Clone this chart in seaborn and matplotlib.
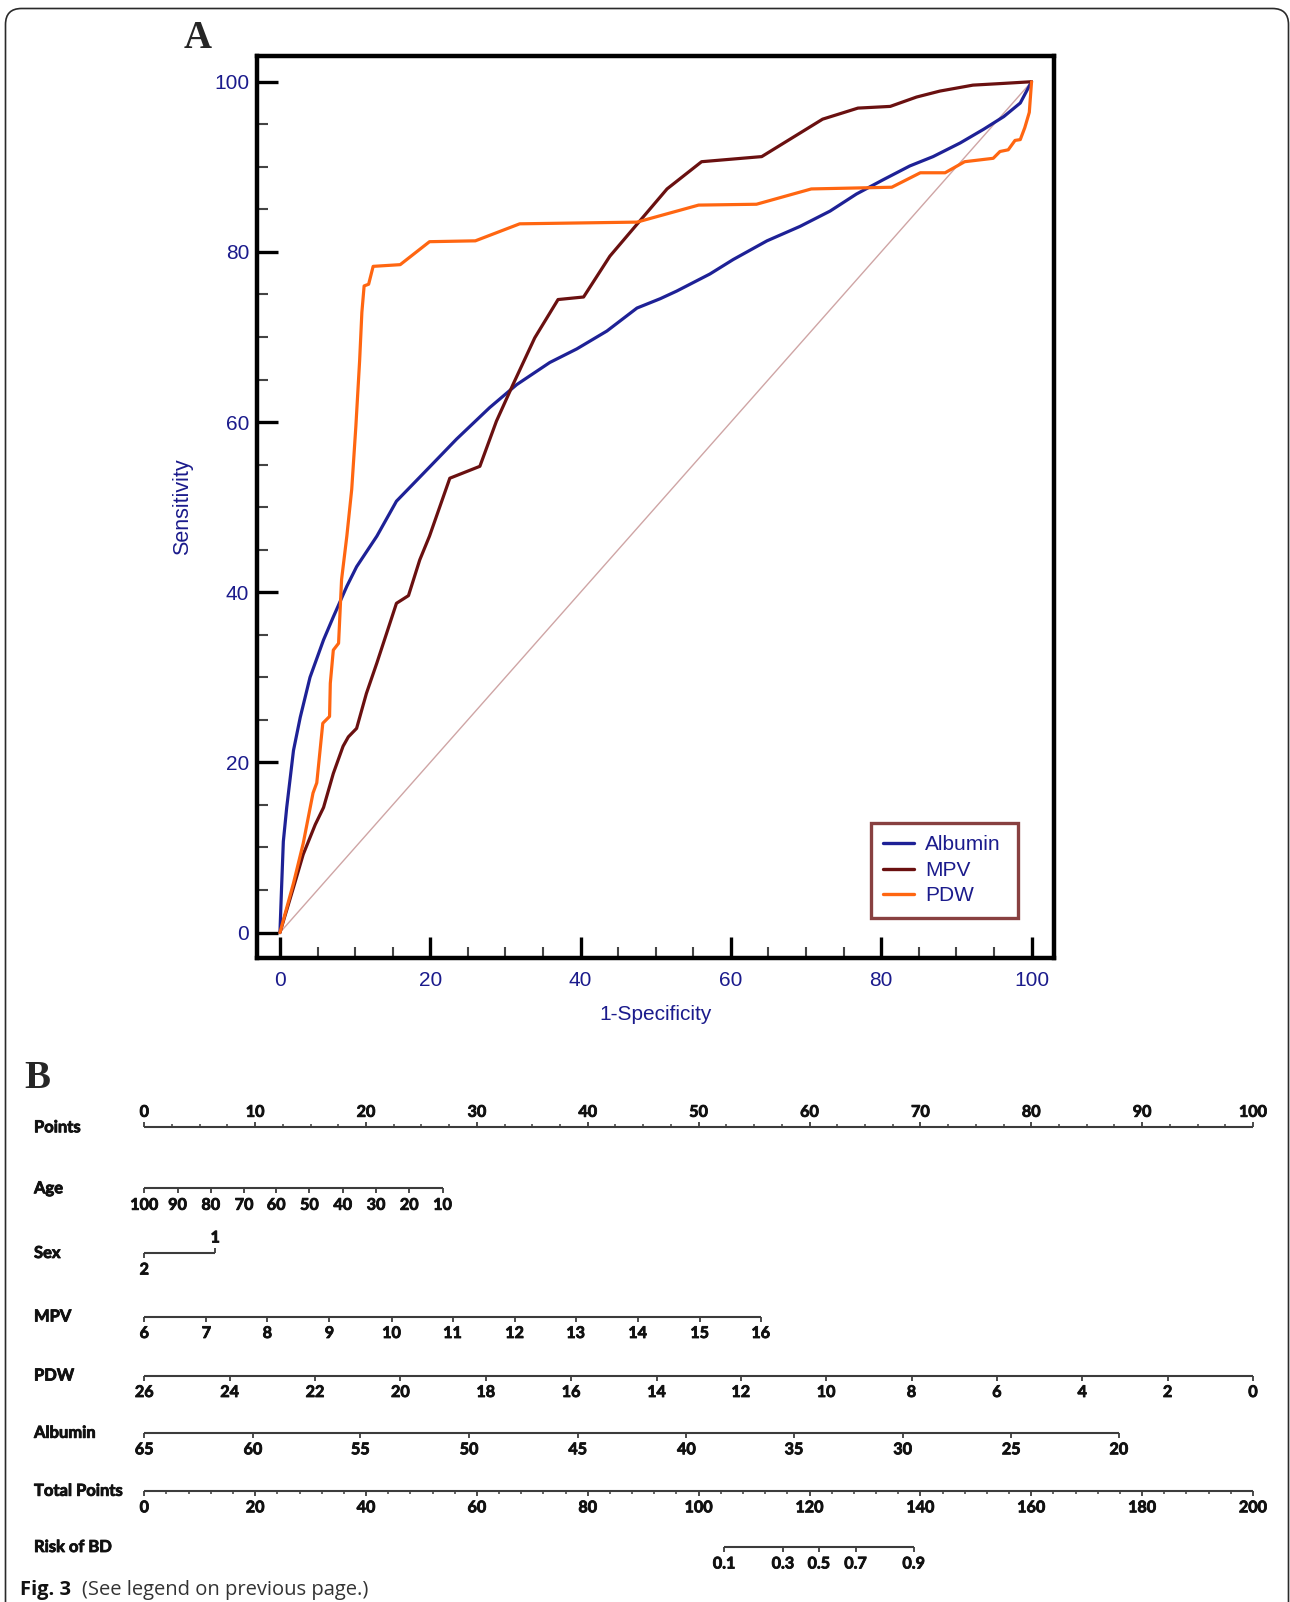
import numpy as np
import pandas as pd
import matplotlib
matplotlib.use("Agg")
import matplotlib.pyplot as plt
import matplotlib.transforms as mtransforms
import matplotlib.patheffects as pe
from matplotlib.patches import FancyBboxPatch
from matplotlib.ticker import MultipleLocator
from matplotlib import font_manager as fm
import seaborn as sns

# ---------------- Data: Panel A (ROC curves, %) ----------------
markers = ["Albumin", "MPV", "PDW"]

alb_fpr = [0, 0.2, 0.45, 0.9, 1.8, 2.7, 4.0, 5.8, 7.1, 8.9, 10.2, 12.9, 15.5, 20.0, 23.5,
           27.9, 31.5, 35.9, 39.5, 43.5, 47.5, 50.6, 52.8, 57.2, 60.3, 64.8, 69.2, 73.2,
           76.7, 80.3, 83.8, 86.9, 90.5, 93.6, 96.3, 98.5, 100]
alb_tpr = [0, 4.9, 10.7, 14.7, 21.4, 25.3, 30.0, 34.4, 37.1, 40.7, 43.0, 46.6, 50.7, 54.8, 58.0,
           61.7, 64.4, 67.0, 68.6, 70.7, 73.4, 74.5, 75.4, 77.4, 79.1, 81.3, 83.0, 84.8,
           86.8, 88.5, 90.1, 91.2, 92.8, 94.4, 95.9, 97.5, 100]

mpv_fpr = [0, 1.8, 3.1, 4.7, 5.8, 7.1, 8.4, 9.1, 10.2, 11.5, 12.9, 14.2, 15.5, 17.1, 18.6,
           19.9, 22.6, 26.6, 28.8, 31.0, 33.9, 37.0, 40.4, 43.9, 51.5, 56.1, 64.1, 72.2,
           76.9, 81.2, 84.7, 87.8, 92.2, 96.2, 100]
mpv_tpr = [0, 5.3, 9.2, 12.7, 14.7, 18.7, 21.9, 23.0, 24.0, 28.1, 31.7, 35.2, 38.7, 39.6, 43.8,
           46.6, 53.4, 54.8, 60.1, 64.4, 69.9, 74.4, 74.7, 79.5, 87.4, 90.6, 91.2, 95.6,
           96.9, 97.1, 98.2, 98.9, 99.6, 99.8, 100]

pdw_fpr = [0, 1.8, 3.1, 4.4, 4.9, 5.7, 6.6, 6.7, 7.1, 7.8, 8.2, 8.9, 9.55, 10.1, 10.6, 10.9,
           11.2, 11.8, 12.4, 16.0, 19.9, 26.0, 31.9, 47.5, 55.7, 63.4, 70.7, 81.4, 85.2,
           88.5, 91.1, 94.9, 95.8, 96.9, 97.8, 98.5, 99.1, 99.7, 100]
pdw_tpr = [0, 5.8, 10.5, 16.4, 17.6, 24.6, 25.4, 29.3, 33.2, 34.0, 41.5, 46.6, 52.1, 59.5, 67.2,
           72.9, 76.0, 76.2, 78.3, 78.5, 81.2, 81.3, 83.3, 83.5, 85.5, 85.6, 87.4, 87.6, 89.3,
           89.3, 90.6, 91.0, 91.8, 92.0, 93.1, 93.2, 94.6, 96.4, 100]

diag = [0, 100]
axis_ticks = [0, 20, 40, 60, 80, 100]

# ---------------- Data: Panel B (nomogram) ----------------
row_names = ["Points", "Age", "Sex", "MPV", "PDW", "Albumin", "Total Points", "Risk of BD"]

points_ticks = [0, 10, 20, 30, 40, 50, 60, 70, 80, 90, 100]
age_labels = ["100", "90", "80", "70", "60", "50", "40", "30", "20", "10"]
age_points = [0, 3.0, 6.0, 9.0, 11.9, 14.9, 17.9, 20.9, 23.9, 26.9]
sex_labels = ["2", "1"]
sex_points = [0, 6.4]
mpv_labels = ["6", "7", "8", "9", "10", "11", "12", "13", "14", "15", "16"]
mpv_points = [0, 5.6, 11.1, 16.7, 22.3, 27.8, 33.4, 38.9, 44.5, 50.1, 55.6]
pdw_labels = ["26", "24", "22", "20", "18", "16", "14", "12", "10", "8", "6", "4", "2", "0"]
pdw_points = [0, 7.7, 15.4, 23.1, 30.8, 38.5, 46.2, 53.8, 61.5, 69.2, 76.9, 84.6, 92.3, 100]
alb_labels = ["65", "60", "55", "50", "45", "40", "35", "30", "25", "20"]
alb_points = [0, 9.8, 19.5, 29.3, 39.1, 48.9, 58.6, 68.4, 78.2, 87.9]
total_ticks = [0, 20, 40, 60, 80, 100, 120, 140, 160, 180, 200]
risk_labels = ["0.1", "0.3", "0.5", "0.7", "0.9"]
risk_total = [104.6, 115.2, 121.7, 128.3, 138.8]

# ---------------- Style ----------------
sns.set_theme(style="white")
plt.rcParams['font.family'] = ['Liberation Sans', 'DejaVu Sans']

navy = "#1b1b8c"
palette = {"Albumin": "#1e2196", "MPV": "#6a1010", "PDW": "#ff6611"}


def pick_font(cands):
    for c in cands:
        try:
            fm.findfont(fm.FontProperties(family=c), fallback_to_default=False)
            return c
        except Exception:
            continue
    return "DejaVu Sans"


nomo_font = pick_font(["Lato", "Roboto", "Open Sans"])
cap_font = pick_font(["Open Sans", "Noto Sans", "Liberation Sans"])

W, H, DPI = 1290, 1602, 100
fig = plt.figure(figsize=(W / DPI, H / DPI), dpi=DPI)
fig.patch.set_facecolor("white")


def fx(px):
    return px / W


def fy(py):
    return 1 - py / H


# ---------------- Panel A ----------------
axA = fig.add_axes([fx(257.4), fy(958.1), (1054.1 - 257.4) / W, (958.1 - 56.2) / H])
axA.set_facecolor("white")

roc = pd.concat([
    pd.DataFrame({"fpr": alb_fpr, "tpr": alb_tpr, "Marker": "Albumin"}),
    pd.DataFrame({"fpr": mpv_fpr, "tpr": mpv_tpr, "Marker": "MPV"}),
    pd.DataFrame({"fpr": pdw_fpr, "tpr": pdw_tpr, "Marker": "PDW"}),
], ignore_index=True)

axA.plot(diag, diag, color="#cfa5a5", lw=1.0, label="_nolegend_", zorder=1)
sns.lineplot(data=roc, x="fpr", y="tpr", hue="Marker", hue_order=markers, palette=palette,
             sort=False, estimator=None, linewidth=2.3, ax=axA, zorder=2)

axA.set_xlim(-3, 103)
axA.set_ylim(-3, 103)
axA.set_xticks(axis_ticks)
axA.set_yticks(axis_ticks)
axA.xaxis.set_minor_locator(MultipleLocator(5))
axA.yaxis.set_minor_locator(MultipleLocator(5))
axA.tick_params(which="major", direction="in", length=15, width=2.4, color="black",
                labelsize=15, labelcolor=navy, pad=6, top=False, right=False,
                bottom=True, left=True)
axA.tick_params(axis="x", which="major", pad=9)
axA.tick_params(which="minor", direction="in", length=8, width=1.5, color="#444444",
                top=False, right=False, bottom=True, left=True)
for s in axA.spines.values():
    s.set_linewidth(3.2)
    s.set_color("black")
axA.set_xlabel("1-Specificity", fontsize=15, color=navy, labelpad=11)
axA.set_ylabel("Sensitivity", fontsize=15.5, color=navy, labelpad=15)

handles, labels = axA.get_legend_handles_labels()
leg = axA.legend(handles, labels, loc="lower left",
                 bbox_to_anchor=(0.770, 0.0445, 0.185, 0.107), mode="expand",
                 borderaxespad=0, fontsize=15, frameon=True, fancybox=False,
                 handlelength=1.45, handletextpad=0.55, labelspacing=0.32,
                 borderpad=0.6, labelcolor=navy)
leg.get_frame().set_edgecolor("#6a1010")
leg.get_frame().set_linewidth(2.4)
for ln in leg.get_lines():
    ln.set_linewidth(2.4)

fig.text(fx(197.5), fy(38.5), "A", family=["Liberation Serif", "DejaVu Serif"],
         weight="bold", fontsize=28, ha="center", va="center")

# ---------------- Panel B (nomogram) ----------------
scale = (1253.0 - 144.3) / 100.0
axN = fig.add_axes([0, 0, 1, 1])
axN.set_xlim(-144.3 / scale, (W - 144.3) / scale)
axN.set_ylim(H, 0)
axN.axis("off")
axN.patch.set_alpha(0)

row_y = [1127.3, 1188.3, 1253.0, 1316.5, 1375.5, 1432.8, 1490.8, 1547.0]
lc = "#3c3c3c"
txt_col = "#111111"
heavy = [pe.Stroke(linewidth=0.6, foreground=txt_col), pe.Normal()]
name_tr = mtransforms.blended_transform_factory(fig.transFigure, axN.transData)
name_kw = dict(family=[nomo_font, "DejaVu Sans"], weight="bold", fontsize=11.9,
               color=txt_col, path_effects=heavy)
tick_kw = dict(family=[nomo_font, "DejaVu Sans"], weight="bold", fontsize=11.6,
               color=txt_col, ha="center", va="center", path_effects=heavy)

for yv, name in zip(row_y, row_names):
    axN.text(fx(34), yv, name, transform=name_tr, ha="left", va="center", **name_kw)


def draw_scale(y, pos, labels, side, tick_len=5.0, off_above=14.5, off_below=17.5):
    axN.hlines(y, min(pos), max(pos), color=lc, lw=1.5)
    for p, lab, sd in zip(pos, labels, side):
        sgn = -1 if sd == "above" else 1
        axN.vlines(p, y, y + sgn * tick_len, color=lc, lw=1.3)
        off = off_above if sd == "above" else off_below
        axN.text(p, y + sgn * off, lab, **tick_kw)


# Points
draw_scale(row_y[0], points_ticks, [str(v) for v in points_ticks], ["above"] * len(points_ticks))
pt_minor = [v for v in np.arange(0, 100.01, 2.5) if v % 10 != 0]
axN.vlines(pt_minor, row_y[0], row_y[0] - 3.0, color=lc, lw=1.1)
# Age
draw_scale(row_y[1], age_points, age_labels, ["below"] * len(age_points))
# Sex
draw_scale(row_y[2], sex_points, sex_labels, ["below", "above"])
# MPV
draw_scale(row_y[3], mpv_points, mpv_labels, ["below"] * len(mpv_points))
# PDW
draw_scale(row_y[4], pdw_points, pdw_labels, ["below"] * len(pdw_points))
# Albumin
draw_scale(row_y[5], alb_points, alb_labels, ["below"] * len(alb_points))
# Total points (0-200 mapped onto the 0-100 points width)
tot_pos = [t / 2 for t in total_ticks]
draw_scale(row_y[6], tot_pos, [str(t) for t in total_ticks], ["below"] * len(tot_pos))
tot_minor = [v / 2 for v in np.arange(0, 200.01, 4) if v % 20 != 0]
axN.vlines(tot_minor, row_y[6], row_y[6] + 3.0, color=lc, lw=1.1)
# Risk
risk_pos = [t / 2 for t in risk_total]
draw_scale(row_y[7], risk_pos, risk_labels, ["below"] * len(risk_pos))

fig.text(fx(37), fy(1079), "B", family=["Liberation Serif", "DejaVu Serif"],
         weight="bold", fontsize=28, ha="center", va="center")

# Caption
fig.text(fx(20.5), fy(1590), "Fig. 3", family=[cap_font, "DejaVu Sans"], weight="bold",
         fontsize=14.5, color="#111111", ha="left", va="center")
fig.text(fx(82), fy(1590), "(See legend on previous page.)", family=[cap_font, "DejaVu Sans"],
         fontsize=14.5, color="#333333", ha="left", va="center")

# Outer rounded frame
frame = FancyBboxPatch((5.5, -60), 1283, H - 8.5 + 60,
                       boxstyle="round,pad=0,rounding_size=16",
                       transform=mtransforms.IdentityTransform(),
                       facecolor="none", edgecolor="#2a2a2a", lw=1.2)
fig.patches.append(frame)

fig.savefig("out.png", dpi=DPI, facecolor="white")
